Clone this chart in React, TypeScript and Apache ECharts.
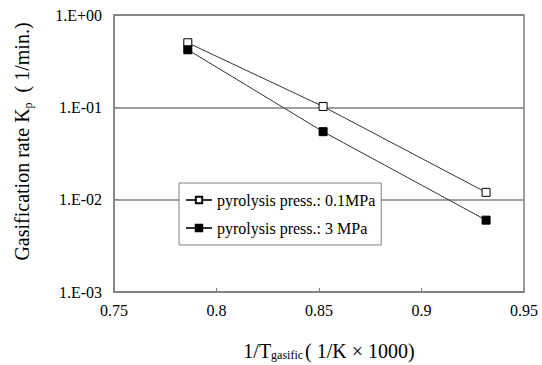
import React, { useEffect, useRef } from "react";
import * as echarts from "echarts";

const xValues = [0.786, 0.852, 0.9315];
const series01MPa = [0.5, 0.102, 0.012];
const series3MPa = [0.42, 0.0545, 0.006];
const seriesNames = ["pyrolysis press.: 0.1MPa", "pyrolysis press.: 3 MPa"];
const xTicks = [0.75, 0.8, 0.85, 0.9, 0.95];

const FONT = "Liberation Serif";

function fmtY(v: number): string {
  const e = Math.round(Math.log10(v));
  const sign = e < 0 ? "-" : "+";
  const a = Math.abs(e);
  return "1.E" + sign + (a < 10 ? "0" + a : String(a));
}

export default function App() {
  const ref = useRef<HTMLDivElement>(null);
  useEffect(() => {
    document.body.style.margin = "0";
    const chart = echarts.init(ref.current!, undefined, { renderer: "svg" });
    const axisGray = "#808080";
    const t16 = { fontFamily: FONT, fontSize: 16, color: "#000" };
    chart.setOption({
      animation: false,
      backgroundColor: "#ffffff",
      textStyle: { fontFamily: FONT },
      grid: {
        left: 114,
        right: 18,
        top: 15,
        bottom: 73,
        outerBoundsMode: "none",
        containLabel: false,
        show: true,
        borderColor: axisGray,
        borderWidth: 1.5,
      },
      legend: {
        left: 179,
        top: 183,
        orient: "vertical",
        backgroundColor: "#ffffff",
        borderColor: axisGray,
        borderWidth: 1,
        borderRadius: 0,
        padding: [9, 6, 9, 6],
        itemGap: 12,
        itemWidth: 26,
        itemHeight: 8,
        formatter: (n: string) => "{t|" + n + "}",
        textStyle: { ...t16, rich: { t: t16 } },
        data: seriesNames,
      },
      xAxis: {
        type: "value",
        min: 0.75,
        max: 0.95,
        interval: 0.05,
        axisLine: { lineStyle: { color: axisGray, width: 1.5 } },
        axisTick: { inside: true, length: 4, lineStyle: { color: axisGray } },
        splitLine: { show: false },
        axisLabel: {
          ...t16,
          margin: 10,
          rich: { t: t16 },
          formatter: (v: number) => {
            const t = xTicks.find((x) => Math.abs(x - v) < 1e-6);
            return t !== undefined ? "{t|" + String(t) + "}" : "";
          },
        },
        name: "{t|1/T}{sub|gasific}{t|( 1/K × 1000)}",
        nameLocation: "middle",
        nameGap: 49,
        nameTextStyle: {
          fontFamily: FONT,
          fontSize: 20,
          color: "#000",
          padding: [0, 0, 0, 20],
          rich: {
            t: { fontFamily: FONT, fontSize: 20, color: "#000" },
            sub: { fontFamily: FONT, fontSize: 12, color: "#000", padding: [8, 2, 0, 0] },
          },
        },
      },
      yAxis: {
        type: "log",
        logBase: 10,
        min: 0.001,
        max: 1,
        axisLine: { lineStyle: { color: axisGray, width: 1.5 } },
        axisTick: { show: true, inside: true, length: 4, lineStyle: { color: axisGray } },
        splitLine: { show: true, lineStyle: { color: axisGray, width: 1.5 } },
        axisLabel: {
          ...t16,
          margin: 12,
          rich: { t: t16 },
          formatter: (v: number) => "{t|" + fmtY(v) + "}",
        },
        name: "{t|Gasification rate K}{sub|p}{t|  ( 1/min.)}",
        nameLocation: "middle",
        nameRotate: 90,
        nameGap: 80,
        nameTextStyle: {
          fontFamily: FONT,
          fontSize: 20,
          color: "#000",
          padding: [0, 0, 0, 24],
          rich: {
            t: { fontFamily: FONT, fontSize: 20, color: "#000" },
            sub: { fontFamily: FONT, fontSize: 12, color: "#000", padding: [12, 0, 0, 0] },
          },
        },
      },
      series: [
        {
          name: seriesNames[0],
          type: "line",
          data: xValues.map((x, i) => [x, series01MPa[i]]),
          symbol: "rect",
          symbolSize: 8,
          lineStyle: { color: "#333", width: 1 },
          itemStyle: { color: "#ffffff", borderColor: "#000", borderWidth: 1 },
          z: 3,
        },
        {
          name: seriesNames[1],
          type: "line",
          data: xValues.map((x, i) => [x, series3MPa[i]]),
          symbol: "rect",
          symbolSize: 8,
          lineStyle: { color: "#333", width: 1 },
          itemStyle: { color: "#000", borderColor: "#000", borderWidth: 1 },
          z: 3,
        },
      ],
    });
    return () => chart.dispose();
  }, []);
  return <div ref={ref} style={{ width: 542, height: 365 }} />;
}
